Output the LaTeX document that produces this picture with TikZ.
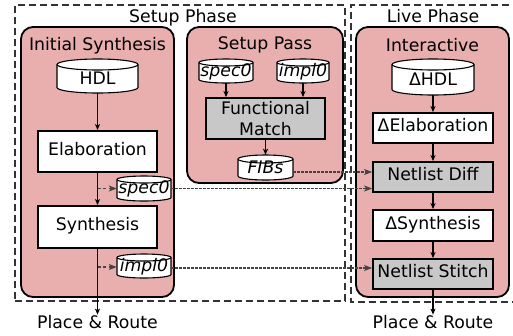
\documentclass[tikz,border=0pt]{standalone}
\usepackage{fontspec}
\setmainfont{DejaVu Sans}
\usetikzlibrary{arrows.meta}
\definecolor{pinkfill}{HTML}{E9AEAE}
\definecolor{grayfill}{HTML}{C8C8C8}
\definecolor{dashgray}{HTML}{333333}
\definecolor{dotgray}{HTML}{444444}
\tikzset{
  every node/.style={font=\fontsize{17.3pt}{21pt}\selectfont},
  phase/.style={draw=dashgray, line width=1.5pt, dash pattern=on 7pt off 4pt},
  stage/.style={draw=black, line width=1.8pt, fill=pinkfill, rounded corners=12pt, inner sep=0pt},
  procbox/.style={draw=black, line width=1.8pt, fill=white, inner sep=0pt, align=center,
    text height=0.73em, text depth=0pt},
  grayproc/.style={procbox, fill=grayfill},
  twoline/.style={draw=black, line width=1.8pt, fill=grayfill, inner sep=0pt, align=center},
  titletext/.style={anchor=base, inner sep=0pt},
  dbline/.style={draw=black, line width=1.1pt, fill=white},
  dbtext/.style={inner sep=0pt, text height=0.73em, text depth=0pt},
  arr/.style={line width=1.1pt, -{Stealth[length=6pt,width=5pt,inset=1.5pt]}},
  sarr/.style={draw=dotgray, line width=1.1pt, dash pattern=on 3pt off 2.5pt,
    -{Stealth[length=8pt,width=6pt,inset=2pt]}},
  darr/.style={draw=dotgray, line width=1.1pt, dash pattern=on 2.5pt off 1.5pt,
    -{Stealth[length=8pt,width=6pt,inset=2pt]}},
}
% name, cx, cy, w, h, ry, text shift, text
\newcommand\dbnode[8]{%
  \draw[dbline] (#2-#4/2, #3-#5/2+#6) -- (#2-#4/2, #3+#5/2-#6)
    arc[start angle=180, end angle=360, x radius={(#4/2)*1pt}, y radius={#6*1pt}]
    -- (#2+#4/2, #3-#5/2+#6)
    arc[start angle=0, end angle=180, x radius={(#4/2)*1pt}, y radius={#6*1pt}] -- cycle;
  \draw[dbline, fill=none] (#2-#4/2, #3-#5/2+#6)
    arc[start angle=180, end angle=360, x radius={(#4/2)*1pt}, y radius={#6*1pt}];
  \node[dbtext, minimum width=#4pt, minimum height=#5pt] (#1) at (#2,#3) {\raisebox{#7}{#8}};%
}
\begin{document}
\begin{tikzpicture}[x=1pt, y=-1pt]
\useasboundingbox (0,0) rectangle (513,335);

% phases
\node[phase, minimum width=330pt, minimum height=296pt, inner sep=0pt] (SPh) at (180,153) {};
\draw[phase] (520,5) -- (351,5) -- (351,302) -- (520,302);
\node[titletext] (tSP) at (183,22) {Setup Phase};
\node[titletext] (tLP) at (433,22) {Live Phase};

% stages
\node[stage, minimum width=153pt, minimum height=270pt] (IS) at (97.5,162) {};
\node[stage, minimum width=156pt, minimum height=156pt] (SPass) at (265,105) {};
\node[stage, minimum width=153pt, minimum height=270pt] (Inter) at (432.5,162) {};
\node[titletext] (tIS) at (97.5,50) {Initial Synthesis};
\node[titletext] (tSPass) at (265,49) {Setup Pass};
\node[titletext] (tI) at (432.5,51) {Interactive};

% initial synthesis
\dbnode{HDL}{97.5}{76}{81}{34}{5.5}{-5pt}{HDL}
\node[procbox, minimum width=119pt, minimum height=41pt] (Elab) at (97.5,151.5) {Elaboration};
\node[procbox, minimum width=119pt, minimum height=42pt] (Synth) at (97.5,227) {Synthesis};
\dbnode{specL}{144}{188.5}{54}{25}{3.5}{-1.5pt}{\itshape spec0}
\dbnode{implL}{144}{266}{54}{24}{3.5}{-1.5pt}{\itshape impl0}
\node[titletext] (PR1) at (97.5,328) {Place \& Route};

% setup pass
\dbnode{specT}{226}{71}{54}{24}{3.5}{-1.5pt}{\itshape spec0}
\dbnode{implT}{303}{71}{52}{24}{3.5}{-1.5pt}{\itshape impl0}
\node[twoline, minimum width=119pt, minimum height=41pt] (FM) at (265.5,118.5) {Functional\\Match};
\dbnode{FIBs}{265.5}{167.5}{55}{25}{4}{-2pt}{\itshape FIBs}

% interactive
\dbnode{dHDL}{433}{77}{82}{36}{5.5}{-5pt}{ΔHDL}
\node[procbox, minimum width=120pt, minimum height=30pt] (dElab) at (433,128) {ΔElaboration};
\node[grayproc, minimum width=120pt, minimum height=30pt] (NDiff) at (433,177) {Netlist Diff};
\node[procbox, minimum width=120pt, minimum height=31pt] (dSynth) at (433,225.5) {ΔSynthesis};
\node[grayproc, minimum width=120pt, minimum height=30pt] (NStitch) at (433,274) {Netlist Stitch};
\node[titletext] (PR2) at (433,328) {Place \& Route};

% connectors
\draw[arr] (HDL) -- (Elab);
\draw[arr] (Elab) -- (Synth);
\draw[arr] (Synth) -- (PR1.north);
\draw[sarr] (Elab.south |- specL.west) -- (specL.west);
\draw[sarr] ([yshift=-1pt]Synth.south |- implL.west) -- ([yshift=-1pt]implL.west);

\draw[arr] (specT) -- (specT |- FM.north);
\draw[arr] (implT) -- (implT |- FM.north);
\draw[arr] (FM) -- (FIBs);

\draw[arr] (dHDL) -- (dElab);
\draw[arr] (dElab) -- (NDiff);
\draw[arr] (NDiff) -- (dSynth);
\draw[arr] (dSynth) -- (NStitch);
\draw[arr] (NStitch) -- (PR2.north);

\draw[darr] ([yshift=-4.5pt]FIBs.east) -- ([yshift=-4.5pt]FIBs.east -| NDiff.west);
\draw[darr] (specL.east) -- (specL.east -| NDiff.west);
\draw[darr] ([yshift=-2pt]implL.east) -- ([yshift=-2pt]implL.east -| NStitch.west);
\end{tikzpicture}
\end{document}
